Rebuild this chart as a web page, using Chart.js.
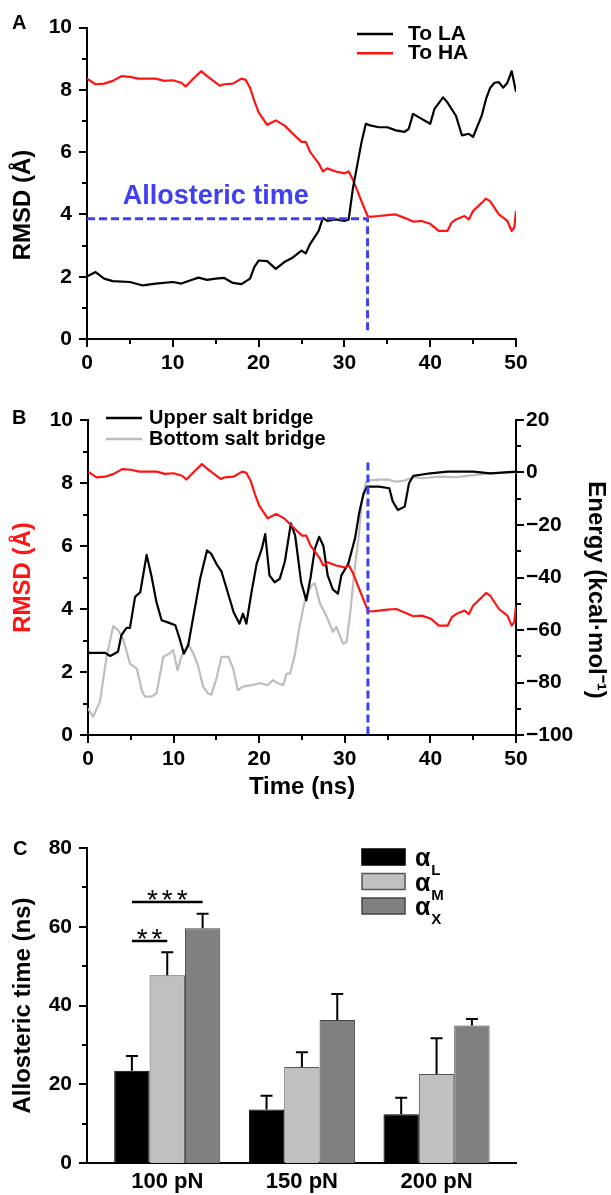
<!DOCTYPE html>
<html>
<head>
<meta charset="utf-8">
<script src="https://cdn.jsdelivr.net/npm/chart.js@4.4.1/dist/chart.umd.min.js"></script>
<style>
  html, body { margin: 0; padding: 0; background: #fff; }
  #wrap { position: relative; width: 611px; height: 1195px; }
  canvas { position: absolute; left: 0; }
</style>
</head>
<body>
<div id="wrap">
  <canvas id="chartA" width="611" height="380" style="top:0"></canvas>
  <canvas id="chartB" width="611" height="440" style="top:380px"></canvas>
  <canvas id="chartC" width="611" height="375" style="top:820px"></canvas>
</div>
<script>
// ---- panel A / B : RMSD to the low- (LA) and high-affinity (HA) states, time in ns
const laTime = [0, 1, 2, 3, 5, 6.5, 8, 10, 11, 12, 13, 14, 15, 16, 17, 18, 19, 19.5, 20, 21,
  22, 23, 24, 25, 25.5, 26, 27, 27.5, 28, 29, 30, 30.5, 31, 32, 32.5, 33, 34, 35, 36, 37,
  37.5, 38, 39, 40, 40.5, 41.5, 42, 43, 43.7, 44.5, 45, 46, 46.5, 47, 47.5, 48, 48.5, 49, 49.5, 50];
const laRmsd = [2.01, 2.15, 1.94, 1.86, 1.83, 1.72, 1.78, 1.83, 1.78, 1.88, 1.97, 1.90, 1.94, 1.96, 1.80, 1.76, 1.94, 2.31, 2.52, 2.50,
  2.25, 2.47, 2.62, 2.84, 2.75, 3.05, 3.47, 3.89, 3.79, 3.84, 3.79, 3.84, 4.85, 6.33, 6.91, 6.86, 6.80, 6.80, 6.70, 6.65,
  6.75, 7.23, 7.07, 6.91, 7.39, 7.76, 7.60, 7.17, 6.54, 6.59, 6.49, 7.17, 7.70, 8.07, 8.23, 8.25, 8.07, 8.23, 8.60, 7.94];

const haTime = [0, 1, 2, 3, 4, 5, 6, 8, 9, 10, 11, 11.5, 12.5, 13.3, 14, 15, 15.5, 16, 17, 18,
  18.5, 19, 19.5, 20, 21, 22, 23, 24, 25, 25.5, 26, 27, 27.5, 28, 29, 30, 30.5, 31, 32, 32.7,
  33, 34, 35, 36, 37, 38, 39, 40, 41, 42, 42.5, 43, 44, 44.5, 45, 46, 46.5, 47, 48, 49, 49.5, 49.8, 50];
const haRmsd = [8.36, 8.18, 8.20, 8.29, 8.44, 8.42, 8.36, 8.36, 8.29, 8.31, 8.23, 8.11, 8.39, 8.60, 8.44, 8.23, 8.13, 8.18, 8.20, 8.36,
  8.32, 8.07, 7.65, 7.28, 6.88, 7.02, 6.86, 6.59, 6.33, 6.33, 6.01, 5.64, 5.38, 5.48, 5.38, 5.32, 5.38, 5.11, 4.42, 3.95,
  3.92, 3.95, 3.98, 4.00, 3.89, 3.77, 3.79, 3.70, 3.47, 3.47, 3.74, 3.84, 3.95, 3.84, 4.11, 4.37, 4.51, 4.42, 4.00, 3.79, 3.47, 3.58, 4.11];

// allosteric time marker
const allostericTime = 32.7;
const allostericRmsd = 3.86;
const markerFloor = 0.2;
const markerTopB = 8.65;

// ---- panel B : salt bridge energies (kcal/mol)
const upperTime = [0, 2, 2.6, 3.5, 3.9, 4.5, 4.9, 5.5, 6.1, 6.85, 7.4, 8.0, 8.6, 9.4, 10.2, 10.7, 11.2, 11.7, 12.3, 13.1,
  13.9, 14.4, 15, 15.6, 16.2, 17, 17.7, 18.1, 18.5, 19.1, 19.7, 20.3, 20.7, 21.2, 21.8, 22.4, 23.0, 23.7, 24.2, 24.9,
  25.5, 26.0, 26.5, 27.0, 27.5, 28.0, 28.6, 29.2, 29.6, 30.4, 31.2, 31.7, 32.2, 32.6, 34, 35.2, 35.6, 36.2, 37, 37.5,
  38, 40, 42, 45, 47, 50];
const upperEnergy = [-68.7, -68.7, -69.9, -68.3, -62, -59.2, -59.2, -47.4, -45.6, -31.4, -39.2, -49.4, -56.3, -57.2, -58.2, -63.3, -69, -65.9, -55, -40.5,
  -29.7, -31, -34.8, -37.8, -44.3, -53.1, -57.6, -53.8, -57.6, -45.6, -34.8, -29.1, -23.5, -39.2, -41.8, -40.5, -33.9, -19.4, -24, -41.8,
  -48.7, -40, -29.1, -24.5, -28, -39.2, -44.5, -46.2, -39.2, -34.8, -25, -15, -8, -5.4, -5.4, -6, -11, -14.3, -13, -4.1,
  -1.3, -0.3, 0.3, 0.3, -0.3, 0.3];

const bottomTime = [0, 0.6, 1.4, 2.2, 2.95, 3.5, 4.1, 4.9, 5.7, 6.27, 6.65, 7.43, 8.0, 8.8, 9.57, 9.95, 10.46, 10.9, 11.7, 12.3,
  12.9, 13.45, 14.0, 14.4, 15.0, 15.6, 16.4, 16.96, 17.5, 18.1, 19.1, 20.1, 21.0, 21.6, 22.2, 22.8, 23.2, 23.6, 24.15, 24.7,
  25.3, 26.1, 26.5, 27.1, 27.9, 28.6, 29.0, 29.8, 30.2, 30.6, 31.2, 31.6, 32.0, 32.5, 33, 35, 36, 37, 38, 39,
  41, 43, 45, 47, 50];
const bottomEnergy = [-89.9, -93, -87.3, -69.6, -58.5, -60, -63.3, -72.8, -74.7, -82.9, -85.4, -85.4, -84.1, -70.2, -68.9, -67.6, -75.3, -70.2, -65.2, -68.9,
  -74, -81.6, -84.1, -84.7, -78.5, -70.2, -70.2, -74.7, -82.9, -81.6, -81, -80.3, -81, -79.1, -80.3, -81, -76.6, -76.6, -69.6, -58.8,
  -49.3, -43, -42.3, -49.9, -55, -60.7, -58.8, -65.2, -64.6, -54.4, -35.4, -25.3, -10.5, -3.5, -2.9, -2.6, -3.5, -3.1, -1.8, -2.2,
  -1.6, -1.8, -1, -0.3, 0];

// ---- panel C : allosteric time (ns) per pulling force
const forces = ['100 pN', '150 pN', '200 pN'];
const alphaL = [23.4, 13.6, 12.4];
const alphaLErr = [3.8, 3.5, 4.2];
const alphaM = [47.7, 24.4, 22.6];
const alphaMErr = [5.8, 3.7, 9.1];
const alphaX = [59.6, 36.3, 34.9];
const alphaXErr = [3.7, 6.6, 1.7];
const sigFrom = [0, 0];
const sigTo = [1, 2];
const sigLevel = [56.4, 66.4];
const sigMark = ['**', '***'];

const FONT = '"Liberation Sans", Arial, Helvetica, sans-serif';
const BLUE = '#4040f0';
const RED = '#ff1414';
Chart.defaults.font.family = FONT;
Chart.defaults.color = '#000';

const pts = (xs, ys) => xs.map((x, i) => ({ x: x, y: ys[i] }));

// major + minor tick marks, drawn outside the axes
function tickMarks(axes) {
  return {
    id: 'tickMarks',
    afterDraw(chart) {
      const ctx = chart.ctx;
      ctx.save();
      ctx.strokeStyle = '#000';
      ctx.lineWidth = 2;
      axes.forEach(a => {
        const s = chart.scales[a.id];
        const n = Math.round((s.max - s.min) / a.minor);
        for (let k = 0; k <= n; k++) {
          const v = s.min + k * a.minor;
          const r = v / a.major;
          const len = Math.abs(r - Math.round(r)) < 1e-6 ? 8 : 5;
          const p = Math.round(s.getPixelForValue(v));
          ctx.beginPath();
          if (s.position === 'left') { ctx.moveTo(s.right - len, p); ctx.lineTo(s.right, p); }
          else if (s.position === 'right') { ctx.moveTo(s.left, p); ctx.lineTo(s.left + len, p); }
          else { ctx.moveTo(p, s.top); ctx.lineTo(p, s.top + len); }
          ctx.stroke();
        }
      });
      ctx.restore();
    }
  };
}

// legend with short line samples
function lineLegend(o) {
  return {
    id: 'lineLegend',
    afterDraw(chart) {
      const ctx = chart.ctx;
      ctx.save();
      ctx.font = 'bold ' + o.size + 'px ' + FONT;
      ctx.textBaseline = 'middle';
      chart.data.datasets.filter(d => d.inLegend).forEach((d, i) => {
        const y = o.y + i * o.gap;
        ctx.strokeStyle = d.borderColor;
        ctx.lineWidth = 2.5;
        ctx.beginPath();
        ctx.moveTo(o.x, y);
        ctx.lineTo(o.x + o.len, y);
        ctx.stroke();
        ctx.fillStyle = '#000';
        ctx.fillText(d.label, o.x + o.len + o.pad, y);
      });
      ctx.restore();
    }
  };
}

// panel letter, rotated side titles, free text placed in data coordinates
function panelText(o) {
  return {
    id: 'panelText',
    afterDraw(chart) {
      const ctx = chart.ctx;
      ctx.save();
      ctx.fillStyle = '#000';
      ctx.font = 'bold 20px ' + FONT;
      ctx.textBaseline = 'middle';
      ctx.fillText(o.letter, o.lx, o.ly);
      (o.titles || []).forEach(t => {
        ctx.save();
        ctx.translate(t.x, t.y);
        ctx.rotate(t.rot);
        ctx.fillStyle = t.color || '#000';
        ctx.font = 'bold 24px ' + FONT;
        ctx.textAlign = 'center';
        ctx.textBaseline = 'middle';
        ctx.fillText(t.text, 0, 0);
        ctx.restore();
      });
      (o.notes || []).forEach(n => {
        ctx.fillStyle = n.color;
        ctx.font = 'bold ' + n.size + 'px ' + FONT;
        ctx.textBaseline = 'alphabetic';
        ctx.fillText(n.text, chart.scales.x.getPixelForValue(n.x), chart.scales.y.getPixelForValue(n.y));
      });
      ctx.restore();
    }
  };
}

const axisStyle = {
  grid: { display: false, drawTicks: false },
  border: { display: true, width: 2, color: '#000' }
};
const tickFont = { size: 21, weight: 'bold' };
const titleFont = { size: 24, weight: 'bold' };

const baseOptions = {
  responsive: false,
  animation: false,
  events: [],
  elements: { point: { radius: 0 }, line: { tension: 0, borderWidth: 2.2, borderJoinStyle: 'round' } },
};

// ---------------- A
new Chart(document.getElementById('chartA'), {
  type: 'line',
  data: {
    datasets: [
      { label: 'Allosteric time', data: [{ x: 0, y: allostericRmsd }, { x: allostericTime, y: allostericRmsd }, { x: allostericTime, y: markerFloor }],
        borderColor: BLUE, borderWidth: 3, borderDash: [8, 4], order: 0 },
      { label: 'To LA', data: pts(laTime, laRmsd), borderColor: '#000', inLegend: true, order: 1 },
      { label: 'To HA', data: pts(haTime, haRmsd), borderColor: RED, inLegend: true, order: 2 }
    ]
  },
  options: Object.assign({}, baseOptions, {
    layout: { padding: { top: 24, right: 95, left: 0, bottom: 0 } },
    scales: {
      x: Object.assign({ type: 'linear', min: 0, max: 50, offset: false,
        ticks: { stepSize: 10, padding: 12, font: tickFont, maxRotation: 0, autoSkip: false },
        afterFit: s => { s.height = 41; } }, axisStyle),
      y: Object.assign({ min: 0, max: 10,
        ticks: { stepSize: 2, padding: 15, font: tickFont },
        afterFit: s => { s.width = 87; } }, axisStyle)
    },
    plugins: { legend: { display: false }, tooltip: { enabled: false } }
  }),
  plugins: [
    tickMarks([{ id: 'x', major: 10, minor: 5 }, { id: 'y', major: 2, minor: 1 }]),
    lineLegend({ x: 357, y: 34, gap: 19.3, len: 36, pad: 15, size: 21 }),
    panelText({ letter: 'A', lx: 12, ly: 23,
      titles: [{ text: 'RMSD (Å)', x: 23.4, y: 205, rot: -Math.PI / 2 }],
      notes: [{ text: 'Allosteric time', x: 4.17, y: 4.32, size: 27, color: BLUE }] })
  ]
});

// ---------------- B
new Chart(document.getElementById('chartB'), {
  type: 'line',
  data: {
    datasets: [
      { label: 'Allosteric time', data: [{ x: allostericTime, y: markerTopB }, { x: allostericTime, y: 0 }], yAxisID: 'y',
        borderColor: BLUE, borderWidth: 3, borderDash: [8, 4], order: 0 },
      { label: 'RMSD', data: pts(haTime, haRmsd), yAxisID: 'y', borderColor: RED, order: 1 },
      { label: 'Upper salt bridge', data: pts(upperTime, upperEnergy), yAxisID: 'y2', borderColor: '#000', inLegend: true, order: 2 },
      { label: 'Bottom salt bridge', data: pts(bottomTime, bottomEnergy), yAxisID: 'y2', borderColor: '#bdbdbd', inLegend: true, order: 3 }
    ]
  },
  options: Object.assign({}, baseOptions, {
    layout: { padding: { top: 40, right: 0, left: 0, bottom: 0 } },
    scales: {
      x: Object.assign({ type: 'linear', min: 0, max: 50, offset: false,
        ticks: { stepSize: 10, padding: 12, font: tickFont, maxRotation: 0, autoSkip: false },
        title: { display: true, text: 'Time (ns)', font: titleFont, padding: { top: 0, bottom: 18 } },
        afterFit: s => { s.height = 85; } }, axisStyle),
      y: Object.assign({ position: 'left', min: 0, max: 10,
        ticks: { stepSize: 2, padding: 15, font: tickFont },
        title: { display: true, text: 'RMSD (Å)', color: RED, font: titleFont, padding: { top: 9, bottom: 0 } },
        afterFit: s => { s.width = 88; } }, axisStyle),
      y2: Object.assign({ position: 'right', min: -100, max: 20,
        ticks: { stepSize: 20, padding: 10, font: tickFont, callback: v => (v < 0 ? '\u2212' + Math.abs(v) : String(v)) },
        afterFit: s => { s.width = 95; } }, axisStyle)
    },
    plugins: { legend: { display: false }, tooltip: { enabled: false } }
  }),
  plugins: [
    tickMarks([{ id: 'x', major: 10, minor: 5 }, { id: 'y', major: 2, minor: 1 }, { id: 'y2', major: 20, minor: 10 }]),
    lineLegend({ x: 106, y: 38, gap: 21, len: 36, pad: 7, size: 20 }),
    panelText({ letter: 'B', lx: 12, ly: 38,
      titles: [{ text: 'Energy (kcal·mol\u207B\u00B9)', x: 596, y: 210, rot: Math.PI / 2 }] })
  ]
});

// ---------------- C
const errorBars = {
  id: 'errorBars',
  afterDatasetsDraw(chart) {
    const ctx = chart.ctx;
    const ys = chart.scales.y;
    ctx.save();
    ctx.strokeStyle = '#000';
    ctx.lineWidth = 2;
    chart.data.datasets.forEach((d, i) => {
      chart.getDatasetMeta(i).data.forEach((bar, j) => {
        const top = ys.getPixelForValue(d.data[j].y + d.errors[j]);
        ctx.beginPath();
        ctx.moveTo(bar.x, bar.y);
        ctx.lineTo(bar.x, top);
        ctx.moveTo(bar.x - 6, top);
        ctx.lineTo(bar.x + 6, top);
        ctx.stroke();
      });
    });
    // significance brackets
    ctx.fillStyle = '#000';
    ctx.lineWidth = 2.5;
    ctx.font = '28px ' + FONT;
    ctx.letterSpacing = '4px';
    ctx.textAlign = 'center';
    ctx.textBaseline = 'alphabetic';
    sigLevel.forEach((lv, k) => {
      const x1 = chart.getDatasetMeta(sigFrom[k]).data[0].x;
      const x2 = chart.getDatasetMeta(sigTo[k]).data[0].x;
      const y = Math.round(ys.getPixelForValue(lv));
      ctx.beginPath();
      ctx.moveTo(x1, y);
      ctx.lineTo(x2, y);
      ctx.stroke();
      ctx.fillText(sigMark[k], (x1 + x2) / 2 + 2, y + 7);
    });
    ctx.restore();
  }
};

const boxLegend = {
  id: 'boxLegend',
  afterDraw(chart) {
    const ctx = chart.ctx;
    ctx.save();
    chart.data.datasets.forEach((d, i) => {
      const y = 29 + i * 24.5;
      ctx.fillStyle = d.backgroundColor;
      ctx.strokeStyle = d.borderColor;
      ctx.lineWidth = 1.5;
      ctx.fillRect(362, y, 43, 16);
      ctx.strokeRect(362, y, 43, 16);
      ctx.fillStyle = '#000';
      ctx.textBaseline = 'alphabetic';
      ctx.font = 'bold 25px ' + FONT;
      ctx.fillText(d.label, 415, y + 17);
      const w = ctx.measureText(d.label).width;
      ctx.font = 'bold 15px ' + FONT;
      ctx.fillText(d.sub, 415 + w + 1, y + 26);
    });
    ctx.restore();
  }
};

const barBase = { borderWidth: 1, barPercentage: 1, categoryPercentage: 0.788 };
new Chart(document.getElementById('chartC'), {
  type: 'bar',
  data: {
    datasets: [
      Object.assign({ label: 'α', sub: 'L', data: pts([1, 2, 3], alphaL), errors: alphaLErr, backgroundColor: '#000000', borderColor: '#000000' }, barBase),
      Object.assign({ label: 'α', sub: 'M', data: pts([1, 2, 3], alphaM), errors: alphaMErr, backgroundColor: '#c0c0c0', borderColor: '#555555' }, barBase),
      Object.assign({ label: 'α', sub: 'X', data: pts([1, 2, 3], alphaX), errors: alphaXErr, backgroundColor: '#808080', borderColor: '#444444' }, barBase)
    ]
  },
  options: Object.assign({}, baseOptions, {
    layout: { padding: { top: 28, right: 95, left: 0, bottom: 0 } },
    scales: {
      x: Object.assign({ type: 'linear', min: 0.404, max: 3.59, offset: false,
        afterBuildTicks: s => { s.ticks = forces.map((f, i) => ({ value: i + 1 })); },
        ticks: { callback: v => forces[v - 1], padding: 6, font: { size: 22, weight: 'bold' }, maxRotation: 0, autoSkip: false },
        afterFit: s => { s.height = 32; } }, axisStyle),
      y: Object.assign({ min: 0, max: 80,
        ticks: { stepSize: 20, padding: 15, font: tickFont },
        title: { display: true, text: 'Allosteric time (ns)', font: titleFont, padding: { top: 9, bottom: 0 } },
        afterFit: s => { s.width = 87; } }, axisStyle)
    },
    plugins: { legend: { display: false }, tooltip: { enabled: false } }
  }),
  plugins: [
    tickMarks([{ id: 'y', major: 20, minor: 10 }]),
    errorBars, boxLegend,
    panelText({ letter: 'C', lx: 13, ly: 29 })
  ]
});
</script>
</body>
</html>
